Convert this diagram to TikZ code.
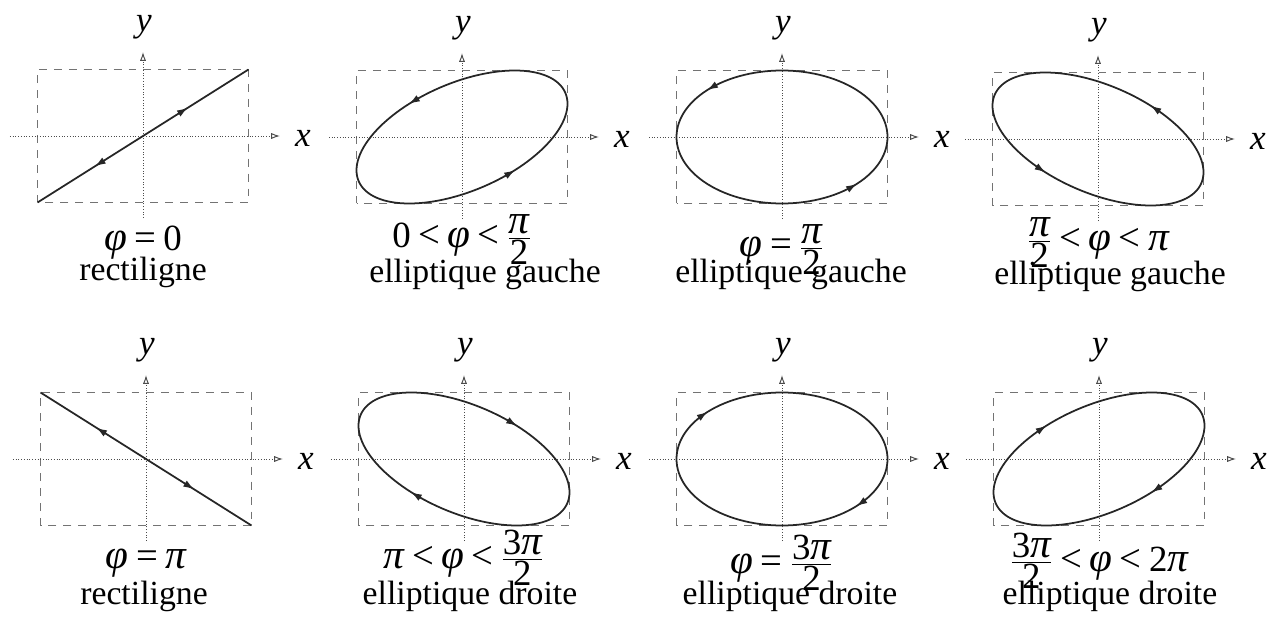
\documentclass[tikz,border=0pt]{standalone}
\usepackage{fontspec}
\setmainfont{Liberation Serif}
\usetikzlibrary{arrows.meta}

% Times-like formulas built from the text font
\newcommand\vphi{{\fontsize{23.5}{24}\selectfont\itshape φ}}
\newcommand\vpi{{\fontsize{23.5}{24}\selectfont\itshape π}}
\newcommand\rel[1]{\hspace{.2em}{\fontsize{22}{22}\selectfont#1}\hspace{.2em}}
\newcommand\fr[2]{$\displaystyle\frac{\raisebox{-.3em}[\height][0pt]{#1}}{\raisebox{.19em}[0pt][\depth]{#2}}$}

\begin{document}
\begin{tikzpicture}[
  font=\fontsize{19.2}{23}\selectfont,
  frame/.style={draw=black!55, dash pattern=on 4.5pt off 4pt, line width=.5pt},
  axis/.style={densely dotted, draw=black!70, line width=.55pt,
    -{Latex[open, length=5pt, width=3.5pt]}},
  orbit/.style={draw=black!85, line width=1pt},
  sense/.style={draw=black!85, line width=.6pt, -{Latex[length=6pt, width=4pt]}},
  axlabel/.style={inner sep=1pt, font=\fontsize{20}{24}\selectfont\itshape},
  caption/.style={anchor=base, inner sep=0pt},
  formula/.style={caption, font=\fontsize{21}{24}\selectfont}
]
\useasboundingbox (0,0) rectangle (25.48,12.46);

% one panel per phase: origin, phase, arrow parameters, label height, shift, labels
\foreach \ox/\oy/\p/\ta/\tb/\fy/\dx/\lab/\txt [count=\i] in {
  2.86/9.74/0/295/117/2.28/0/{\vphi\rel{=}0}/rectiligne,
  9.24/9.72/60/120/300/2.20/.46/{0\rel{<}\vphi\rel{<}\fr{\vpi}{2}}/elliptique gauche,
  15.64/9.72/90/135/315/2.40/.18/{\vphi\rel{=}\fr{\vpi}{2}}/elliptique gauche,
  21.96/9.68/120/60/240/2.22/.24/{\fr{\vpi}{2}\rel{<}\vphi\rel{<}\vpi}/elliptique gauche,
  2.92/3.28/180/118/297/2.18/-.04/{\vphi\rel{=}\vpi}/rectiligne,
  9.28/3.28/240/300/120/2.18/.12/{\vpi\rel{<}\vphi\rel{<}\fr{3\vpi}{2}}/elliptique droite,
  15.64/3.28/270/225/45/2.28/.16/{\vphi\rel{=}\fr{3\vpi}{2}}/elliptique droite,
  21.98/3.28/300/240/60/2.24/.22/{\fr{3\vpi}{2}\rel{<}\vphi\rel{<}2\vpi}/elliptique droite}{
  \begin{scope}[shift={(\ox,\oy)}]
    \draw[frame] (-2.11,-1.33) rectangle (2.11,1.33);
    \draw[axis] (-2.66,0) -- (2.74,0);
    \draw[axis] (0,-1.64) -- (0,1.68);
    \node[axlabel] (xl\i) at (3.2,-.04) {x};
    \node[axlabel] (yl\i) at (.02,2.18) {y};
    \draw[orbit] plot[domain=0:360, samples=121, variable=\t]
      ({2.11*cos(\t)},{1.33*cos(\t-\p)}) -- cycle;
    \draw[sense] ({2.11*cos(\ta-4)},{1.33*cos(\ta-4-\p)}) -- ({2.11*cos(\ta)},{1.33*cos(\ta-\p)});
    \draw[sense] ({2.11*cos(\tb-4)},{1.33*cos(\tb-4-\p)}) -- ({2.11*cos(\tb)},{1.33*cos(\tb-\p)});
    \node[formula] (phi\i) at (0,-\fy) {\lab};
    \node[caption] (kind\i) at (\dx,-2.9) {\txt};
  \end{scope}
}
\end{tikzpicture}
\end{document}
